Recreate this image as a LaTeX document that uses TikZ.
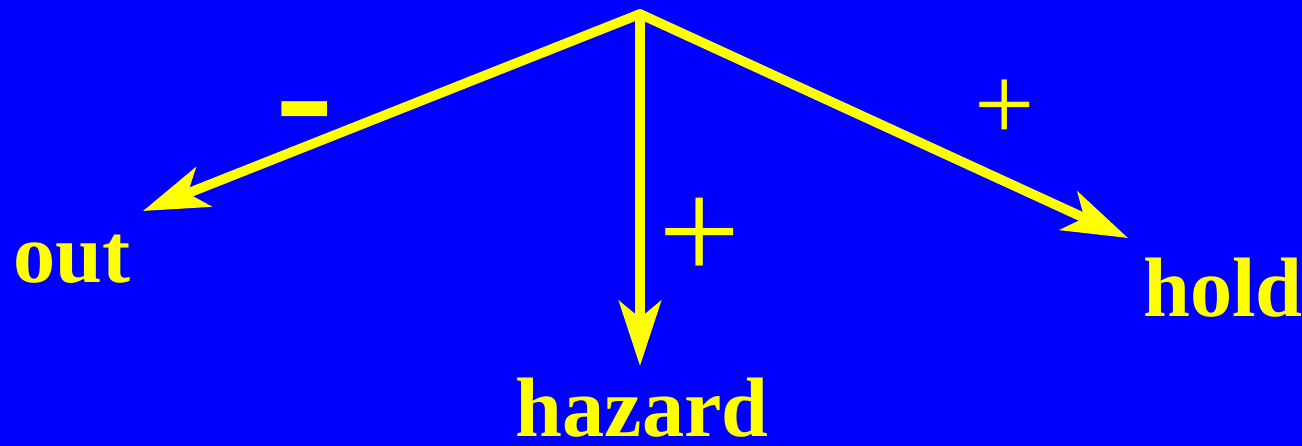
\documentclass[tikz,border=0pt]{standalone}
\usepackage{fontspec}
\setmainfont{Liberation Serif}
\usetikzlibrary{arrows.meta, positioning}
\definecolor{bgblue}{RGB}{0,0,255}
\definecolor{signyellow}{RGB}{255,255,0}

\begin{document}
\begin{tikzpicture}[
    x=0.02cm, y=-0.02cm,
    term/.style={inner sep=0, anchor=base, text=signyellow, font=\fontsize{48}{48}\selectfont\bfseries},
    sign/.style={inner sep=0, text=signyellow},
    link/.style={-{Stealth[length=1.3cm, width=0.84cm, inset=0.34cm]}, line width=5.5pt, line cap=round, signyellow}
]

\fill[bgblue] (0,0) rectangle (1302,446);
\useasboundingbox (0,0) rectangle (1302,446);

\coordinate (top) at (640,14);
\coordinate (outtip) at (143,211);
\coordinate (hazardtip) at (640,366);
\coordinate (holdtip) at (1128,238);

\node[term] (out) at (72,282) {out};
\node[term] (hazard) at (642,436) {hazard};
\node[term, anchor=base west] (hold) at (1143,316) {hold};

\draw[link] (top) -- (outtip);
\draw[link] (top) -- (hazardtip);
\draw[link] (top) -- (holdtip);

% signs on the links
\node[sign, anchor=base, font=\fontsize{100}{100}\selectfont\bfseries] (minus) at (305,151) {-};
\node[sign, font=\fontsize{83}{83}\selectfont] (plusmid) at (700,239) {+};
\node[sign, font=\fontsize{61}{61}\selectfont] (plusright) at (1005,110) {+};

\end{tikzpicture}
\end{document}
